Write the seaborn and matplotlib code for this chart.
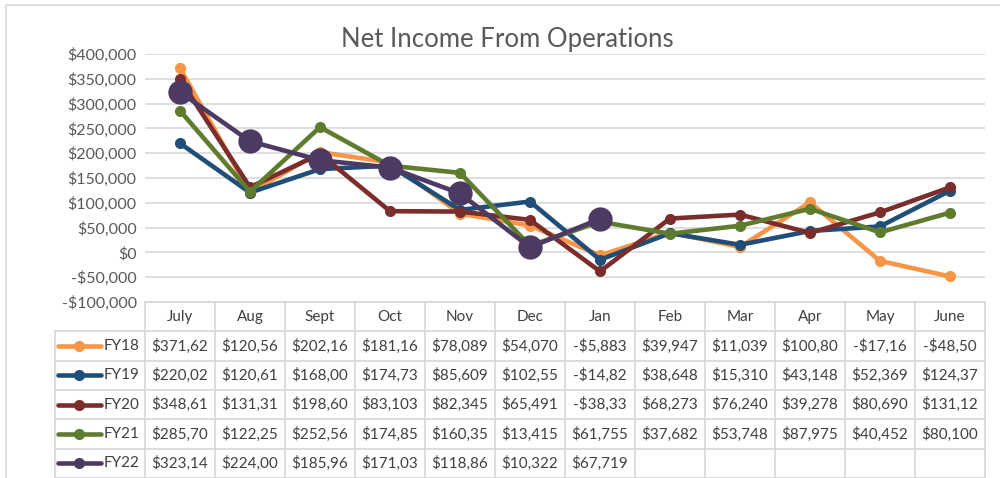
import numpy as np
import pandas as pd
import matplotlib.pyplot as plt
import matplotlib.patches as patches
import seaborn as sns

months = ['July', 'Aug', 'Sept', 'Oct', 'Nov', 'Dec', 'Jan', 'Feb', 'Mar', 'Apr', 'May', 'June']
series_names = ['FY18', 'FY19', 'FY20', 'FY21', 'FY22']
fy18 = [371620, 120560, 202160, 181160, 78089, 54070, -5883, 39947, 11039, 100800, -17160, -48500]
fy19 = [220020, 120610, 168000, 174730, 85609, 102550, -14820, 38648, 15310, 43148, 52369, 124370]
fy20 = [348610, 131310, 198600, 83103, 82345, 65491, -38330, 68273, 76240, 39278, 80690, 131120]
fy21 = [285700, 122250, 252560, 174850, 160350, 13415, 61755, 37682, 53748, 87975, 40452, 80100]
fy22 = [323140, 224000, 185960, 171030, 118860, 10322, 67719]
y_ticks = [-100000, -50000, 0, 50000, 100000, 150000, 200000, 250000, 300000, 350000, 400000]

colors = ['#F79646', '#1F4E79', '#7B2C2C', '#5E7B2E', '#4D3A63']
marker_sizes = [8, 8, 8, 8, 17.5]

sns.set_style('white')
plt.rcParams['font.family'] = ['Lato', 'DejaVu Sans']

all_vals = [fy18, fy19, fy20, fy21, fy22]
rows = []
for name, vals in zip(series_names, all_vals):
    for i, v in enumerate(vals):
        rows.append({'series': name, 'pos': i, 'month': months[i], 'value': v})
df = pd.DataFrame(rows)

fig = plt.figure(figsize=(10, 4.78), dpi=100)
fig.patch.set_facecolor('white')
fig.patches.append(patches.Rectangle((0.006, -0.1), 1.2, 1.1 - 5 / 478, transform=fig.transFigure,
                                     fill=False, edgecolor='#D9D9D9', linewidth=1.2))

ax = fig.add_axes([0.145, 176 / 478, 0.84, 248 / 478])
for name, color, ms in zip(series_names, colors, marker_sizes):
    sub = df[df['series'] == name]
    sns.lineplot(data=sub, x='pos', y='value', ax=ax, color=color, linewidth=3.3,
                 marker='o', markersize=ms, markeredgewidth=0, markeredgecolor=color)

ax.set_xlim(-0.5, 11.5)
ax.set_ylim(-100000, 400000)
ax.set_yticks(y_ticks)
ax.set_yticklabels([f'-${abs(t):,}' if t < 0 else f'${t:,}' for t in y_ticks], fontsize=11.5, color='#595959')
ax.set_xticks([])
ax.set_xlabel('')
ax.set_ylabel('')
ax.tick_params(axis='y', length=0, pad=6)
ax.grid(axis='y', color='#D9D9D9', linewidth=1.2)
ax.set_axisbelow(True)
for s in ax.spines.values():
    s.set_visible(False)

fig.text(0.507, 1 - 40 / 478, 'Net Income From Operations', ha='center', va='center',
         fontsize=18.5, color='#595959')

# data table under the chart
tax = fig.add_axes([0.055, 0, 0.93, 176 / 478])
xmin = -0.5 - 90 / 70
tax.set_xlim(xmin, 11.5)
tax.set_ylim(6, 0)
tax.axis('off')
grid_kw = dict(color='#D9D9D9', linewidth=1.3, clip_on=False)
tax.plot([-0.5, 11.5], [0, 0], **grid_kw)
for r in range(1, 7):
    tax.plot([xmin, 11.5], [r, r], **grid_kw)
for k in range(13):
    tax.plot([k - 0.5, k - 0.5], [0, 6], **grid_kw)
tax.plot([xmin, xmin], [1, 6], **grid_kw)

text_color = '#404040'
for i, m in enumerate(months):
    tax.text(i, 0.5, m, ha='center', va='center', fontsize=11, color=text_color)


def fmt(v):
    s = f'-${abs(v):,}' if v < 0 else f'${v:,}'
    return s[:7]


for r, (name, vals, color) in enumerate(zip(series_names, all_vals, colors)):
    yc = r + 1.5
    tax.plot([xmin + 3 / 70, xmin + 46 / 70], [yc, yc], color=color, linewidth=3.3,
             solid_capstyle='round')
    tax.plot([xmin + 24.5 / 70], [yc], marker='o', color=color, markersize=8, markeredgewidth=0)
    tax.text(xmin + 49 / 70, yc, name, ha='left', va='center', fontsize=11, color=text_color)
    for i, v in enumerate(vals):
        tax.text(i, yc, fmt(v), ha='center', va='center', fontsize=11, color=text_color)

fig.savefig('out.png', dpi=100)
